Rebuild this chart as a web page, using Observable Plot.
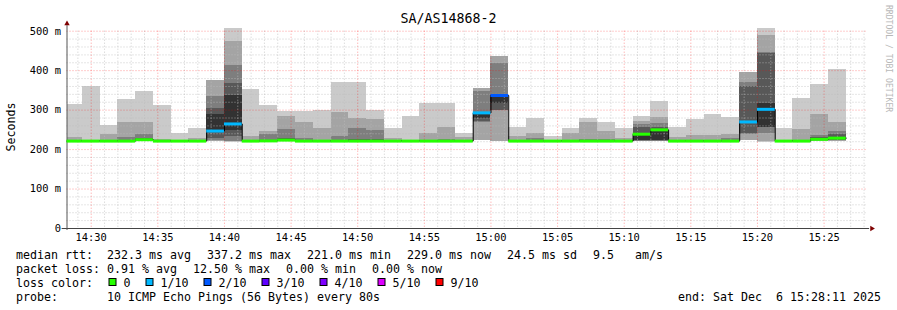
<!DOCTYPE html>
<html><head><meta charset="utf-8">
<script src="https://cdn.jsdelivr.net/npm/d3@7"></script>
<script src="https://cdn.jsdelivr.net/npm/@observablehq/plot@0.6"></script>
<style>
html,body{margin:0;padding:0;background:#fff;}
#wrap{position:relative;width:897px;height:310px;overflow:hidden;background:#fff;}
#wrap svg{position:absolute;left:0;top:0;}
</style></head><body><div id="wrap"></div>
<script>
// ---------- data ----------
const title = "SA/AS14868-2";
const yLabel = "Seconds";
const watermark = "RRDTOOL / TOBI OETIKER";
const endLabel = "end: Sat Dec  6 15:28:11 2025";
const rttItems = ["median rtt:  232.3 ms avg", "337.2 ms max", "221.0 ms min", "229.0 ms now", "24.5 ms sd", "9.5   am/s"];
const lossItems = ["packet loss: 0.91 % avg", "12.50 % max", "0.00 % min", "0.00 % now"];
const probeItems = ["probe:       10 ICMP Echo Pings (56 Bytes) every 80s"];
const lossLabels = ["0", "1/10", "2/10", "3/10", "4/10", "5/10", "9/10"];
const lossBorders = [0, 1, 2, 3, 4, 5, 9];
const lossColors = ["#26ff00", "#00b8ff", "#0059ff", "#5e00ff", "#7e00ff", "#dd00ff", "#ff0000"];
const smokeGrays = ["#cacaca", "#a4a4a4", "#7e7e7e", "#585858", "#323232"];
const yTicks = [0, 100, 200, 300, 400, 500];

const firstBin = Date.UTC(2025, 11, 6, 14, 28, 0);   // start of first 80 s step
const stepMs = 80e3;
const endTime = Date.UTC(2025, 11, 6, 15, 28, 11);
const startTime = endTime - 3600e3;

// sorted pings per 80 s step (ms), null = lost
const pings = [
  [220,221,221,221,221,222,222,222,230,313],
  [220,220,221,221,221,221,222,222,223,359],
  [220,221,221,221,222,222,222,223,237,260],
  [220,221,221,221,222,222,223,231,268,326],
  [221,222,223,223,224,225,227,238,268,346],
  [220,221,221,221,222,222,222,222,225,311],
  [220,220,221,221,221,222,222,222,222,240],
  [220,221,221,221,222,222,222,223,227,254],
  [null,220,222,228,247,288,305,335,375,null],
  [219,220,221,232,249,338,367,414,475,507],
  [220,221,221,221,222,222,222,223,232,351],
  [220,221,221,222,223,223,224,237,245,311],
  [221,222,223,224,225,226,228,251,283,296],
  [220,221,221,222,222,223,224,228,268,296],
  [220,221,221,221,222,222,222,223,253,300],
  [220,221,221,222,222,223,224,232,294,371],
  [220,221,221,222,223,224,226,253,280,369],
  [220,221,221,222,223,224,225,248,275,300],
  [220,220,221,221,221,222,222,222,228,253],
  [220,220,221,221,221,221,222,222,224,285],
  [220,221,221,221,222,222,222,223,242,316],
  [220,221,221,222,222,222,223,226,255,316],
  [220,220,221,221,221,222,222,222,230,240],
  [null,222,269,270,278,292,295,346,356,null],
  [null,221,299,300,316,337,340,418,436,null],
  [220,221,221,221,222,222,222,223,232,255],
  [220,221,221,222,222,222,223,228,241,279],
  [220,220,221,221,221,221,222,222,223,232],
  [220,220,221,221,222,222,222,224,242,253],
  [220,221,221,221,222,222,223,225,268,280],
  [220,221,221,222,222,222,223,226,247,268],
  [220,220,221,221,221,222,222,222,228,253],
  [220,221,221,222,223,239,255,263,272,284],
  [220,221,221,222,223,250,256,265,281,321],
  [220,220,221,221,221,222,222,222,230,256],
  [220,221,221,221,222,222,222,223,235,275],
  [220,221,221,221,222,222,222,223,235,288],
  [220,221,221,222,222,222,223,227,238,281],
  [null,222,237,242,268,270,359,370,395,null],
  [219,221,241,256,257,318,444,446,490,506],
  [220,220,221,221,221,221,222,222,223,254],
  [220,220,221,221,221,222,222,222,250,329],
  [220,221,222,222,223,226,230,236,288,364],
  [220,221,223,224,225,229,239,247,268,403]
];
const median = [221.5,221.5,221.5,221.5,225,221.5,221.5,221.5,247,265,
  221.5,222,224,221.5,221.5,221.5,221.5,221.5,221.5,221.5,
  221.5,221.5,221.5,293,337,221.5,221.5,221.5,221.5,221.5,
  221.5,221.5,239,250,221.5,221.5,221.5,221.5,270,302,
  221.5,221.5,226,229];
const loss = [0,0,0,0,0,0,0,0,1,1, 0,0,0,0,0,0,0,0,0,0,
  0,0,0,1,1.25,0,0,0,0,0, 0,0,0,0,0,0,0,0,1,1, 0,0,0,0];

// ---------- derived tables ----------
const lossColor = l => lossColors[Math.max(0, lossBorders.findIndex(b => l <= b))];
const bins = pings.map((p, i) => ({
  x1: new Date(Math.max(firstBin + i * stepMs, startTime)),
  x2: new Date(firstBin + (i + 1) * stepMs),
  p, med: median[i], col: lossColor(loss[i])
}));
const bands = [];
bins.forEach(b => {
  for (let k = 0; k < 5; k++) {
    const lo = b.p[k], hi = b.p[9 - k];
    if (lo != null && hi != null && hi > lo) bands.push({x1: b.x1, x2: b.x2, y1: lo, y2: hi, fill: smokeGrays[k]});
  }
});
const stepPts = bins.flatMap(b => [{x: b.x1, y: b.med}, {x: b.x2, y: b.med}]);
const majorX = d3.utcMinute.every(5).range(new Date(startTime), new Date(endTime));
const minorX = d3.utcMinute.range(new Date(startTime), new Date(endTime)).filter(d => d.getUTCMinutes() % 5 !== 0);
const majorY = [100, 200, 300, 400, 500];
const minorY = d3.range(20, 501, 20).filter(v => v % 100 !== 0);

const FONT = "'DejaVu Sans Mono', monospace";
const gridMinor = {stroke: "#bcbcbc", strokeOpacity: 0.75, strokeDasharray: "1,2"};
const gridMajor = {stroke: "#ff0000", strokeOpacity: 0.4, strokeDasharray: "1,2"};

const plot = Plot.plot({
  width: 897, height: 250,
  marginLeft: 66.5, marginRight: 31, marginTop: 30.7, marginBottom: 22,
  style: {fontFamily: FONT, fontSize: "10.4px", color: "#000", background: "transparent", overflow: "visible"},
  x: {type: "utc", domain: [new Date(startTime), new Date(endTime)], ticks: majorX,
      tickFormat: d3.utcFormat("%H:%M"), tickSize: 0, tickPadding: 5, label: null},
  y: {domain: [0, 500], ticks: yTicks, tickFormat: d => d === 0 ? "0" : `${d} m`,
      tickSize: 0, tickPadding: 6, label: null},
  color: {type: "identity"},
  marks: [
    Plot.rect(bands, {x1: "x1", x2: "x2", y1: "y1", y2: "y2", fill: "fill", shapeRendering: "crispEdges"}),
    Plot.ruleX(minorX, gridMinor),
    Plot.ruleY(minorY, gridMinor),
    Plot.ruleX(majorX, gridMajor),
    Plot.ruleY(majorY, gridMajor),
    Plot.ruleY([0], {x1: new Date(startTime - 22e3), x2: new Date(endTime + 14e3), stroke: "#444", strokeWidth: 1.2}),
    Plot.ruleX([new Date(startTime)], {y1: -5, y2: 514, stroke: "#555"}),
    Plot.line(stepPts, {x: "x", y: "y", stroke: "#000", strokeWidth: 1}),
    Plot.ruleY(bins, {x1: "x1", x2: "x2", y: "med", stroke: "col", strokeWidth: 3}),
    Plot.dot([0], {frameAnchor: "top-left", symbol: "triangle", r: 2, fill: "#7f0000", stroke: null, dy: -7.5}),
    Plot.dot([0], {frameAnchor: "bottom-right", symbol: "triangle", r: 2, fill: "#7f0000", stroke: null, rotate: 90, dx: 5.3})
  ]
});
document.getElementById("wrap").appendChild(plot);

// ---------- texts & legend ----------
const ov = d3.select("#wrap").append("svg")
  .attr("width", 897).attr("height", 310)
  .style("font-family", FONT).style("pointer-events", "none");
const FS = 11.63, CW = 7.0, GAP = 16;
ov.append("text").attr("x", 448.5).attr("y", 23).attr("text-anchor", "middle")
  .style("font-size", "13.3px").attr("fill", "#000").text(title);
ov.append("text").attr("transform", "translate(15,127) rotate(-90)").attr("text-anchor", "middle")
  .style("font-size", FS + "px").attr("fill", "#000").text(yLabel);
ov.append("text").attr("transform", "translate(885.5,5) rotate(90)")
  .style("font-size", "8.1px").attr("fill", "#b8b8b8").text(watermark);

const base = [258.9, 272.5, 286.5, 300.5];
function itemLine(items, y) {
  let x = 16;
  items.forEach(s => {
    ov.append("text").attr("x", x).attr("y", y).style("font-size", FS + "px")
      .style("white-space", "pre").attr("fill", "#000").text(s);
    x += s.length * CW + GAP;
  });
}
itemLine(rttItems, base[0]);
itemLine(lossItems, base[1]);
itemLine(["loss color:"], base[2]);
itemLine(probeItems, base[3]);
ov.append("text").attr("x", 881).attr("y", base[3]).attr("text-anchor", "end")
  .style("font-size", FS + "px").style("white-space", "pre").attr("fill", "#000").text(endLabel);
let bx = 108.5;
lossLabels.forEach((lab, i) => {
  ov.append("rect").attr("x", bx + 0.5).attr("y", 278.5).attr("width", 7).attr("height", 7)
    .attr("fill", lossColors[i]).attr("stroke", "#000").attr("stroke-width", 1);
  const lx = bx + 15;
  ov.append("text").attr("x", lx).attr("y", base[2]).style("font-size", FS + "px").attr("fill", "#000").text(lab);
  bx = lx + lab.length * CW + 15;
});
</script></body></html>
